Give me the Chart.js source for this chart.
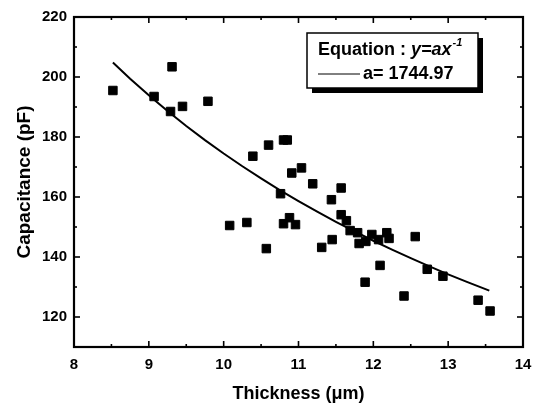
<!DOCTYPE html>
<html>
<head>
<meta charset="utf-8">
<script src="https://cdn.jsdelivr.net/npm/chart.js@4/dist/chart.umd.min.js"></script>
<style>
  html, body { margin: 0; padding: 0; background: #fff; }
  #wrap { width: 533px; height: 405px; position: relative; }
</style>
</head>
<body>
<div id="wrap"><canvas id="chart-cap"></canvas></div>
<script>
// measured samples: film thickness (um) vs capacitance (pF)
const thickness = [
  8.52, 9.07, 9.29, 9.31, 9.45, 9.79, 10.08, 10.31, 10.39, 10.57,
  10.60, 10.76, 10.80, 10.80, 10.85, 10.88, 10.91, 10.96, 11.04, 11.19,
  11.31, 11.44, 11.45, 11.57, 11.57, 11.64, 11.69, 11.79, 11.81, 11.89,
  11.90, 11.98, 12.07, 12.09, 12.18, 12.21, 12.41, 12.56, 12.72, 12.93,
  13.40, 13.56
];
const capacitance = [
  195.5, 193.5, 188.5, 203.4, 190.2, 191.9, 150.5, 151.5, 173.6, 142.8,
  177.3, 161.1, 179.0, 151.1, 179.0, 153.1, 168.0, 150.8, 169.7, 164.4,
  143.2, 159.1, 145.8, 163.0, 154.1, 152.1, 148.8, 148.1, 144.5, 131.6,
  145.2, 147.5, 145.8, 137.2, 148.1, 146.2, 127.0, 146.8, 135.9, 133.6,
  125.6, 122.0
];

// fit y = a / x
const FIT_A = 1744.97;
const fitX = [
  8.52, 8.75, 9.0, 9.25, 9.5, 9.75, 10.0, 10.25, 10.5, 10.75, 11.0,
  11.25, 11.5, 11.75, 12.0, 12.25, 12.5, 12.75, 13.0, 13.25, 13.55
];

const xTicks = [8, 9, 10, 11, 12, 13, 14];
const xMinor = [8.5, 9.5, 10.5, 11.5, 12.5, 13.5];
const yTicks = [120, 140, 160, 180, 200, 220];
const yMinor = [110, 130, 150, 170, 190, 210];

const FONT = "'Liberation Sans', Arial, sans-serif";

const points = thickness.map((t, i) => ({ x: t, y: capacitance[i] }));
const fitLine = fitX.map(t => ({ x: t, y: FIT_A / t }));

// frame + inward tick marks on all four sides
const framePlugin = {
  id: "frame",
  afterDraw(chart) {
    const { ctx, chartArea: a, scales: { x, y } } = chart;
    ctx.save();
    ctx.strokeStyle = "#000";
    ctx.lineWidth = 1.6;
    const tick = (x1, y1, x2, y2) => { ctx.beginPath(); ctx.moveTo(x1, y1); ctx.lineTo(x2, y2); ctx.stroke(); };
    xTicks.forEach(v => { const p = x.getPixelForValue(v); tick(p, a.bottom, p, a.bottom - 6); tick(p, a.top, p, a.top + 6); });
    xMinor.forEach(v => { const p = x.getPixelForValue(v); tick(p, a.bottom, p, a.bottom - 3); tick(p, a.top, p, a.top + 3); });
    yTicks.forEach(v => { const p = y.getPixelForValue(v); tick(a.left, p, a.left + 6, p); tick(a.right, p, a.right - 6, p); });
    yMinor.forEach(v => { const p = y.getPixelForValue(v); tick(a.left, p, a.left + 3, p); tick(a.right, p, a.right - 3, p); });
    ctx.lineWidth = 2.2;
    ctx.strokeRect(a.left, a.top, a.right - a.left, a.bottom - a.top);
    ctx.restore();
  }
};

// equation box, top right
const eqPlugin = {
  id: "eqbox",
  afterDraw(chart) {
    const { ctx, chartArea: a } = chart;
    const bx = a.right - 216, by = a.top + 16, bw = 171, bh = 55;
    ctx.save();
    ctx.fillStyle = "#000";
    ctx.fillRect(bx + 5, by + 5, bw, bh);
    ctx.fillStyle = "#fff";
    ctx.fillRect(bx, by, bw, bh);
    ctx.strokeStyle = "#000";
    ctx.lineWidth = 1.5;
    ctx.strokeRect(bx, by, bw, bh);

    ctx.fillStyle = "#000";
    ctx.textBaseline = "alphabetic";
    let tx = bx + 11;
    ctx.font = `bold 18px ${FONT}`;
    ctx.fillText("Equation : ", tx, by + 22);
    tx += ctx.measureText("Equation : ").width;
    ctx.font = `italic bold 18px ${FONT}`;
    ctx.fillText("y=ax", tx, by + 22);
    tx += ctx.measureText("y=ax").width;
    ctx.font = `italic bold 11px ${FONT}`;
    ctx.fillText("-1", tx + 1, by + 13);

    ctx.lineWidth = 1;
    ctx.beginPath();
    ctx.moveTo(bx + 11, by + 41);
    ctx.lineTo(bx + 53, by + 41);
    ctx.stroke();
    ctx.font = `bold 18px ${FONT}`;
    ctx.fillText("a= " + FIT_A.toFixed(2), bx + 56, by + 46);
    ctx.restore();
  }
};

new Chart(document.getElementById("chart-cap"), {
  type: "scatter",
  data: {
    datasets: [
      {
        label: "data",
        data: points,
        pointStyle: "rect",
        pointRadius: 6,
        backgroundColor: "#000",
        borderColor: "#000",
        borderWidth: 1
      },
      {
        label: "fit",
        data: fitLine,
        showLine: true,
        pointRadius: 0,
        borderColor: "#000",
        borderWidth: 2,
        tension: 0
      }
    ]
  },
  options: {
    responsive: true,
    maintainAspectRatio: false,
    animation: false,
    layout: { padding: { top: 17, right: 0, left: 0, bottom: 0 } },
    plugins: { legend: { display: false }, tooltip: { enabled: false } },
    scales: {
      x: {
        type: "linear",
        min: 8, max: 14,
        afterBuildTicks: s => { s.ticks = xTicks.map(v => ({ value: v })); },
        afterFit: s => { s.height = 58; s.paddingRight = 10; s.paddingLeft = 0; },
        grid: { display: false, drawTicks: false },
        border: { display: false },
        ticks: { color: "#000", padding: 9, font: { family: FONT, size: 15, weight: "bold" } },
        title: {
          display: true, text: "Thickness (\u03bcm)", color: "#000",
          padding: { bottom: 0, top: 0 },
          font: { family: FONT, size: 18, weight: "bold" }
        }
      },
      y: {
        type: "linear",
        min: 110, max: 220,
        afterBuildTicks: s => { s.ticks = yTicks.map(v => ({ value: v })); },
        afterFit: s => { s.width = 74; },
        grid: { display: false, drawTicks: false },
        border: { display: false },
        ticks: { color: "#000", padding: 7, font: { family: FONT, size: 15, weight: "bold" } },
        title: {
          display: true, text: "Capacitance (pF)", color: "#000",
          padding: { top: 13, bottom: 0 },
          font: { family: FONT, size: 19, weight: "bold" }
        }
      }
    }
  },
  plugins: [framePlugin, eqPlugin]
});
</script>
</body>
</html>
